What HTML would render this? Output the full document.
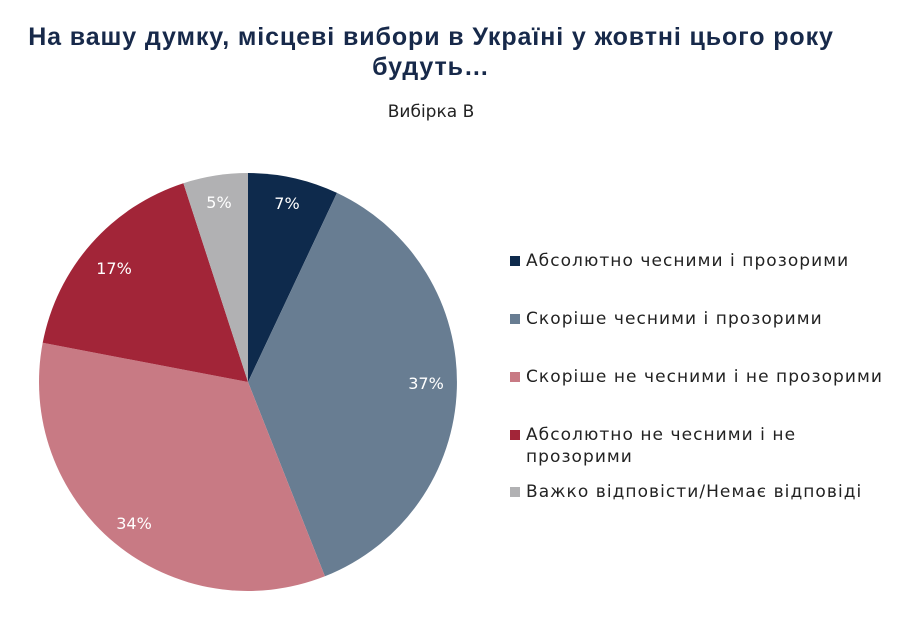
<!DOCTYPE html>
<html><head><meta charset="utf-8"><style>
body{margin:0;width:897px;height:637px;background:#fff;overflow:hidden;font-family:"Liberation Sans","DejaVu Sans",sans-serif;}
.t{position:absolute;left:0;width:862px;text-align:center;font-weight:bold;font-size:25px;letter-spacing:0.9px;color:#17294a;line-height:30px;top:22px;}
.s{position:absolute;left:0;width:862px;text-align:center;font-size:17px;color:#222;top:102px;font-family:"DejaVu Sans",sans-serif;}
.lg{position:absolute;left:510px;font-size:17px;color:#222;line-height:22px;font-family:"DejaVu Sans",sans-serif;letter-spacing:1.05px;white-space:nowrap;}
.lg i{position:absolute;left:0;top:6px;width:10px;height:10px;}
.lg span{display:block;margin-left:16px;}
</style></head><body>
<div class="t">На вашу думку, місцеві вибори в Україні у жовтні цього року<br>будуть…</div>
<div class="s">Вибірка В</div>
<svg width="897" height="637" style="position:absolute;left:0;top:0">
<path d="M248,382 L248,173 A209,209 0 0 1 337,192.9 Z" fill="#0e2a4c"/>
<path d="M248,382 L337,192.9 A209,209 0 0 1 324.9,576.3 Z" fill="#687d92"/>
<path d="M248,382 L324.9,576.3 A209,209 0 0 1 42.7,342.8 Z" fill="#c87a84"/>
<path d="M248,382 L42.7,342.8 A209,209 0 0 1 183.4,183.2 Z" fill="#a22538"/>
<path d="M248,382 L183.4,183.2 A209,209 0 0 1 248,173 Z" fill="#b1b1b3"/>
<g fill="#fff" font-size="16" text-anchor="middle" font-family="DejaVu Sans,sans-serif">
<text x="287" y="209">7%</text>
<text x="426" y="389">37%</text>
<text x="134" y="529">34%</text>
<text x="114" y="274">17%</text>
<text x="219" y="208">5%</text>
</g></svg>
<div class="lg" style="top:250px"><i style="background:#0e2a4c"></i><span>Абсолютно чесними і прозорими</span></div>
<div class="lg" style="top:308px"><i style="background:#687d92"></i><span>Скоріше чесними і прозорими</span></div>
<div class="lg" style="top:366px"><i style="background:#c87a84"></i><span>Скоріше не чесними і не прозорими</span></div>
<div class="lg" style="top:424px"><i style="background:#a22538"></i><span>Абсолютно не чесними і не<br>прозорими</span></div>
<div class="lg" style="top:481px"><i style="background:#b1b1b3"></i><span>Важко відповісти/Немає відповіді</span></div>
</body></html>
